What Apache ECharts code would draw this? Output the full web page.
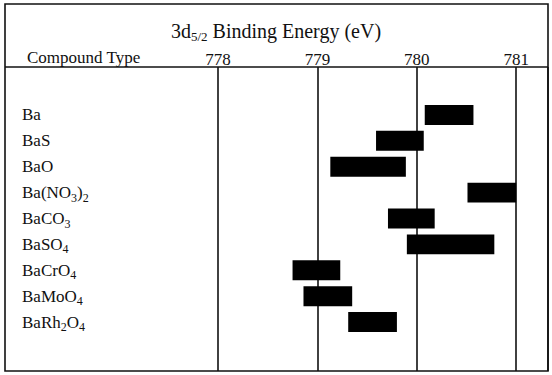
<!DOCTYPE html>
<html>
<head>
<meta charset="utf-8">
<script src="https://cdn.jsdelivr.net/npm/echarts@6/dist/echarts.min.js"></script>
<style>
html,body{margin:0;padding:0;background:#fff;}
#chart{width:552px;height:375px;}
</style>
</head>
<body>
<div id="chart"></div>
<script>
// ---- data ----
const compounds = ['Ba', 'BaS', 'BaO', 'Ba(NO3)2', 'BaCO3', 'BaSO4', 'BaCrO4', 'BaMoO4', 'BaRh2O4'];
const lowEnergy  = [780.08, 779.59, 779.13, 780.51, 779.71, 779.90, 778.75, 778.86, 779.31];
const highEnergy = [780.57, 780.07, 779.89, 781.00, 780.18, 780.78, 779.23, 779.35, 779.80];
const xTicks = [778, 779, 780, 781];

const FONT = 'Liberation Serif';
const INK = '#111';

const barData = compounds.map((c, i) => [i, lowEnergy[i], highEnergy[i]]);
const fmtFormula = s => s.replace(/(\d)/g, '{s|$1}');

const chart = echarts.init(document.getElementById('chart'), null, {renderer: 'svg'});

const option = {
  backgroundColor: '#fff',
  animation: false,
  title: [
    {
      text: '3d{s|5/2} Binding Energy (eV)',
      left: 'center',
      top: 14,
      textStyle: {
        fontFamily: FONT, fontSize: 20, fontWeight: 'normal', color: INK,
        rich: {s: {fontFamily: FONT, fontSize: 13, color: INK, verticalAlign: 'bottom', lineHeight: 24}}
      }
    },
    {
      text: 'Compound Type',
      left: 22,
      top: 44,
      textStyle: {fontFamily: FONT, fontSize: 17, fontWeight: 'normal', color: INK}
    }
  ],
  grid: [
    {left: 218, right: 4, top: 67, bottom: 4, show: false},
    {left: 218, right: 4, top: 102, height: 233, show: false}
  ],
  xAxis: [
    {
      gridIndex: 0, type: 'value', position: 'top',
      min: xTicks[0], max: 781.32, interval: 1,
      axisLine: {show: false}, axisTick: {show: false},
      axisLabel: {
        showMaxLabel: false, margin: -1,
        fontFamily: FONT, fontSize: 17, color: INK,
        formatter: v => (xTicks.indexOf(v) >= 0 ? String(v) : '')
      },
      splitLine: {show: true, lineStyle: {color: INK, width: 1.6}}
    },
    {
      gridIndex: 1, type: 'value',
      min: xTicks[0], max: 781.32, interval: 1,
      show: false
    }
  ],
  yAxis: [
    {gridIndex: 0, type: 'value', show: false},
    {
      gridIndex: 1, type: 'category', inverse: true,
      data: compounds,
      axisLine: {show: false}, axisTick: {show: false}, splitLine: {show: false},
      axisLabel: {
        margin: 196, align: 'left',
        fontFamily: FONT, fontSize: 17, color: INK,
        formatter: fmtFormula,
        rich: {s: {fontFamily: FONT, fontSize: 12, color: INK, verticalAlign: 'bottom', lineHeight: 22}}
      }
    }
  ],
  series: [
    {
      type: 'custom',
      xAxisIndex: 1, yAxisIndex: 1,
      data: barData,
      encode: {x: [1, 2], y: 0},
      renderItem: function (params, api) {
        const cat = api.value(0);
        const s = api.coord([api.value(1), cat]);
        const e = api.coord([api.value(2), cat]);
        const h = api.size([0, 1])[1] * 0.77;
        return {
          type: 'rect',
          shape: {x: s[0], y: s[1] - h / 2, width: e[0] - s[0], height: h},
          style: {fill: '#000'}
        };
      }
    }
  ],
  graphic: [
    {
      type: 'rect', silent: true, z: 10,
      shape: {x: 5, y: 4, width: 543, height: 367},
      style: {fill: 'none', stroke: INK, lineWidth: 1.6}
    },
    {
      type: 'line', silent: true, z: 10,
      shape: {x1: 5, y1: 67, x2: 548, y2: 67},
      style: {stroke: INK, lineWidth: 1.6}
    }
  ]
};

chart.setOption(option);
</script>
</body>
</html>
